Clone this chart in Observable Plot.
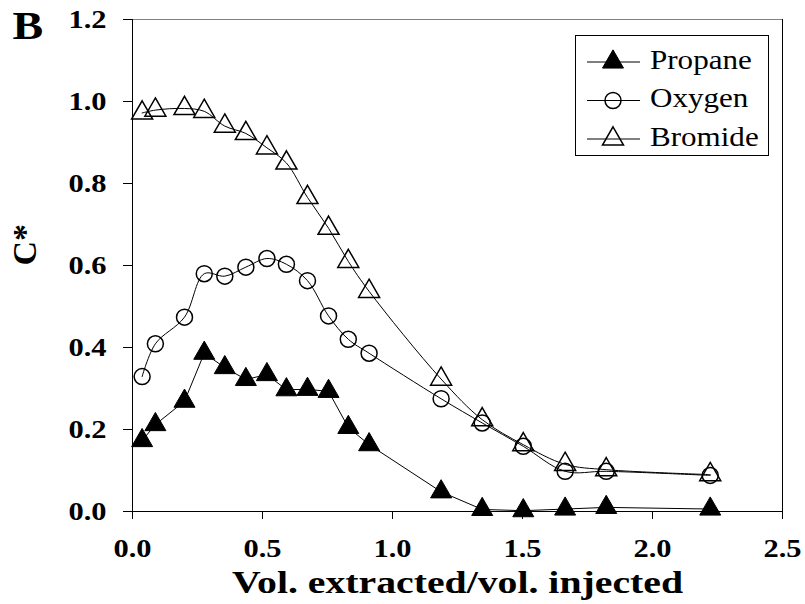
<!DOCTYPE html>
<html>
<head>
<meta charset="utf-8">
<script src="https://cdn.jsdelivr.net/npm/d3@7"></script>
<script src="https://cdn.jsdelivr.net/npm/@observablehq/plot@0.6"></script>
<style>
  html, body { margin: 0; padding: 0; background: #fff; }
  svg text { font-family: "Liberation Serif", "Times New Roman", serif !important; }
</style>
</head>
<body>
<script>
// ---- data ----
const xVals   = [0.037, 0.088, 0.200, 0.276, 0.355, 0.436, 0.517, 0.592, 0.673, 0.754, 0.830, 0.910, 1.187, 1.345, 1.503, 1.664, 1.822, 2.222];
const propane = [0.173, 0.212, 0.269, 0.386, 0.351, 0.322, 0.334, 0.297, 0.298, 0.293, 0.205, 0.163, 0.048, 0.005, 0.002, 0.006, 0.010, 0.006];
const oxygen  = [0.329, 0.409, 0.474, 0.580, 0.574, 0.596, 0.617, 0.603, 0.563, 0.477, 0.420, 0.386, 0.275, 0.216, 0.159, 0.098, 0.098, 0.088];
const bromide = [0.972, 0.979, 0.983, 0.976, 0.940, 0.922, 0.887, 0.850, 0.766, 0.691, 0.610, 0.537, 0.323, 0.224, 0.163, 0.115, 0.102, 0.090];
const seriesNames = ["Propane", "Oxygen", "Bromide"];
const xTicks = [0, 0.5, 1.0, 1.5, 2.0, 2.5];
const yTicks = [0, 0.2, 0.4, 0.6, 0.8, 1.0, 1.2];
const xTitle = "Vol. extracted/vol. injected";
const yTitle = "C*";
const panelLabel = "B";

const toRows = (ys) => xVals.map((x, i) => ({x, y: ys[i]}));
const rowsP = toRows(propane), rowsO = toRows(oxygen), rowsB = toRows(bromide);
const fmt = d3.format(".1f");
const T = d => d;

const chart = Plot.plot({
  width: 805,
  height: 604,
  marginLeft: 132,
  marginRight: 23,
  marginTop: 19,
  marginBottom: 93,
  style: {background: "white", fontFamily: "Liberation Serif", color: "black"},
  x: {domain: [0, 2.5]},
  y: {domain: [0, 1.2]},
  marks: [
    Plot.axisX({ticks: xTicks, tickSize: 8, tickPadding: 20, tickFormat: fmt, fontSize: 25, fontWeight: "bold", label: null, stroke: "black"}),
    Plot.axisY({ticks: yTicks, tickSize: 9, tickPadding: 17, tickFormat: fmt, fontSize: 25, fontWeight: "bold", label: null, stroke: "black"}),
    Plot.ruleY([1.2], {stroke: "#808080", strokeWidth: 1}),
    Plot.ruleX([2.5], {stroke: "black", strokeWidth: 1}),
    Plot.ruleX([0], {stroke: "black", strokeWidth: 1}),
    Plot.ruleY([0], {stroke: "black", strokeWidth: 1}),
    Plot.line(rowsP, {x: "x", y: "y", stroke: "black", strokeWidth: 1}),
    Plot.line(rowsO, {x: "x", y: "y", stroke: "black", strokeWidth: 1, curve: "catmull-rom"}),
    Plot.line(rowsB, {x: "x", y: "y", stroke: "black", strokeWidth: 1, curve: "catmull-rom"}),
    Plot.dot(rowsP, {x: "x", y: "y", symbol: "triangle", r: 7.8, fill: "black", stroke: "black", strokeWidth: 1}),
    Plot.dot(rowsO, {x: "x", y: "y", symbol: "circle", r: 8, fill: "none", stroke: "black", strokeWidth: 1.5}),
    Plot.dot(rowsB, {x: "x", y: "y", symbol: "triangle", r: 7.8, fill: "none", stroke: "black", strokeWidth: 1.5}),
    Plot.text([xTitle], {text: T, frameAnchor: "bottom", dy: 72, fontSize: 31, fontWeight: "bold", lineAnchor: "middle", fill: "black"}),
    Plot.text([yTitle], {text: T, frameAnchor: "left", rotate: -90, dx: -107, fontSize: 34, fontWeight: "bold", lineAnchor: "middle", fill: "black"}),
    Plot.text([panelLabel], {text: T, frameAnchor: "top-left", textAnchor: "start", lineAnchor: "top", dx: -120, dy: -9, fontSize: 40, fontWeight: "bold", fill: "black"})
  ]
});
document.body.append(chart);

const svg = d3.select(chart);

// ---- legend ----
const lg = svg.append("g").attr("class", "legend").attr("text-anchor", "start");
lg.append("rect").attr("x", 575.5).attr("y", 35.5).attr("width", 193).attr("height", 120)
  .attr("fill", "white").attr("stroke", "black").attr("stroke-width", 1);
const legendSyms = [
  {sym: d3.symbolTriangle, fill: "black", sw: 1, size: Math.PI * 7.8 * 7.8},
  {sym: d3.symbolCircle, fill: "none", sw: 1.5, size: Math.PI * 8 * 8},
  {sym: d3.symbolTriangle, fill: "none", sw: 1.5, size: Math.PI * 7.8 * 7.8}
];
seriesNames.forEach((name, i) => {
  const cy = 62 + i * 38.5;
  const s = legendSyms[i];
  lg.append("line").attr("x1", 587).attr("x2", 640).attr("y1", cy).attr("y2", cy)
    .attr("stroke", "black").attr("stroke-width", 1);
  lg.append("path").attr("transform", `translate(613,${cy})`)
    .attr("d", d3.symbol(s.sym, s.size)())
    .attr("fill", s.fill).attr("stroke", "black").attr("stroke-width", s.sw);
  lg.append("text").attr("class", "lgtext").attr("x", 650).attr("y", cy + 6.5)
    .attr("text-anchor", "start").attr("font-size", 27).attr("fill", "black").text(name);
});

// ---- fonts and horizontal stretch of the text, as in the reference ----
const allText = Array.from(chart.querySelectorAll("text"));
allText.forEach(t => {
  t.style.fontFamily = '"Liberation Serif", "Times New Roman", serif';
  t.style.fontWeight = t.classList.contains("lgtext") ? "normal" : "bold";
});
function stretch(nodes, f) {
  nodes.forEach(t => {
    const L = t.getComputedTextLength();
    if (L > 0) {
      t.setAttribute("textLength", (L * f).toFixed(1));
      t.setAttribute("lengthAdjust", "spacingAndGlyphs");
    }
  });
}
function stretchTo(nodes, w) {
  nodes.forEach(t => {
    t.setAttribute("textLength", w);
    t.setAttribute("lengthAdjust", "spacingAndGlyphs");
  });
}
stretch(Array.from(chart.querySelectorAll('g[aria-label="x-axis tick label"] text, g[aria-label="y-axis tick label"] text')), 1.22);
stretchTo(allText.filter(t => t.textContent === xTitle), 451);
stretch(allText.filter(t => t.textContent === panelLabel), 1.15);
stretch(Array.from(chart.querySelectorAll("text.lgtext")), 1.15);
</script>
</body>
</html>
